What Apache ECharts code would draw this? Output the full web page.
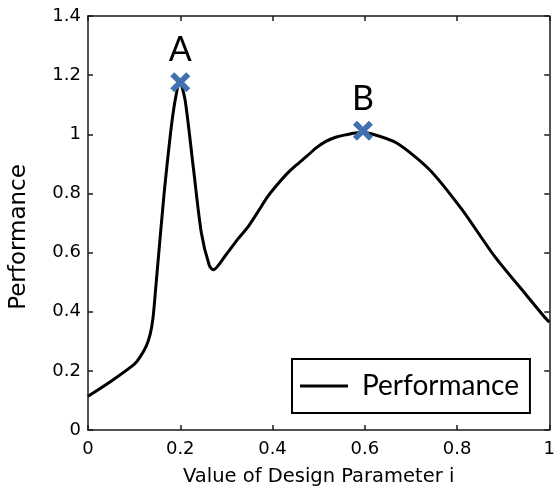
<!DOCTYPE html>
<html>
<head>
<meta charset="utf-8">
<script src="https://cdn.jsdelivr.net/npm/echarts@6/dist/echarts.min.js"></script>
<style>html,body{margin:0;padding:0;background:#fff}#c{width:558px;height:492px}</style>
</head>
<body>
<div id="c"></div>
<script>
var xValues = [0, 0.05, 0.1, 0.112, 0.126, 0.135, 0.141, 0.147, 0.165, 0.179, 0.189, 0.199, 0.2105, 0.228, 0.2456, 0.263, 0.2716, 0.298, 0.326, 0.346, 0.368, 0.3895, 0.4105, 0.4316, 0.4526, 0.4737, 0.4947, 0.5158, 0.5368, 0.558, 0.5895, 0.614, 0.670, 0.740, 0.8105, 0.8807, 0.951, 0.993, 1.0];
var performance = [0.114, 0.165, 0.222, 0.245, 0.283, 0.325, 0.38, 0.484, 0.80, 1.005, 1.116, 1.178, 1.116, 0.892, 0.668, 0.556, 0.542, 0.59, 0.648, 0.685, 0.737, 0.789, 0.830, 0.867, 0.897, 0.925, 0.954, 0.976, 0.990, 0.998, 1.006, 1.002, 0.970, 0.881, 0.746, 0.589, 0.455, 0.376, 0.365];
var pointNames = ['A', 'B'];
var pointX = [0.2, 0.596];
var pointY = [1.176, 1.012];
var xTicks = ['0', '0.2', '0.4', '0.6', '0.8', '1'];
var yTicks = ['0', '0.2', '0.4', '0.6', '0.8', '1', '1.2', '1.4'];

var lineData = xValues.map(function (x, i) { return [x, performance[i]]; });
var ptData = pointNames.map(function (n, i) { return { name: n, value: [pointX[i], pointY[i]] }; });

var axisCol = '#1a1a1a';
var tickFont = { fontFamily: 'DejaVu Sans', fontSize: 18, color: '#000' };
var chart = echarts.init(document.getElementById('c'), null, { renderer: 'canvas' });
chart.setOption({
  animation: false,
  backgroundColor: '#fff',
  grid: { left: 85, right: 1, top: 16, bottom: 60, containLabel: false },
  xAxis: [{
    type: 'value', min: 0, max: 1, interval: 0.2, position: 'bottom',
    name: 'Value of Design Parameter i', nameLocation: 'middle', nameGap: 37,
    nameTextStyle: { fontFamily: 'DejaVu Sans', fontSize: 19.5, color: '#000' },
    axisLine: { show: true, onZero: false, lineStyle: { color: axisCol, width: 1.5 } },
    axisTick: { show: true, inside: true, length: 5, lineStyle: { color: axisCol, width: 1.5 } },
    axisLabel: Object.assign({ margin: 10, formatter: function (v) { return xTicks[Math.round(v / 0.2)]; } }, tickFont),
    splitLine: { show: false }
  }, {
    type: 'value', min: 0, max: 1, interval: 0.2, position: 'top',
    axisLine: { show: true, onZero: false, lineStyle: { color: axisCol, width: 1.5 } },
    axisTick: { show: true, inside: true, length: 5, lineStyle: { color: axisCol, width: 1.5 } },
    axisLabel: { show: false }, splitLine: { show: false }
  }],
  yAxis: [{
    type: 'value', min: 0, max: 1.4, interval: 0.2, position: 'left',
    name: 'Performance', nameLocation: 'middle', nameGap: 57,
    nameTextStyle: { fontFamily: 'DejaVu Sans', fontSize: 23, color: '#000', padding: [0, 28, 0, 0] },
    axisLine: { show: true, onZero: false, lineStyle: { color: axisCol, width: 1.5 } },
    axisTick: { show: true, inside: true, length: 5, lineStyle: { color: axisCol, width: 1.5 } },
    axisLabel: Object.assign({ margin: 7, formatter: function (v) { return yTicks[Math.round(v / 0.2)]; } }, tickFont),
    splitLine: { show: false }
  }, {
    type: 'value', min: 0, max: 1.4, interval: 0.2, position: 'right',
    axisLine: { show: true, onZero: false, lineStyle: { color: axisCol, width: 1.5 } },
    axisTick: { show: true, inside: true, length: 5, lineStyle: { color: axisCol, width: 1.5 } },
    axisLabel: { show: false }, splitLine: { show: false }
  }],
  legend: {
    data: ['Performance'],
    left: 292, top: 359,
    orient: 'horizontal',
    backgroundColor: '#fff',
    borderColor: '#000', borderWidth: 2, borderRadius: 0,
    padding: [13, 11, 13, 8],
    itemWidth: 48, itemHeight: 3,
    icon: 'rect',
    textStyle: { fontFamily: 'Lato', fontSize: 28, color: '#000', padding: [0, 0, 0, 9] }
  },
  series: [{
    name: 'Performance', type: 'line', data: lineData, smooth: 0.25,
    showSymbol: false, symbol: 'none',
    lineStyle: { color: '#000', width: 3 }, itemStyle: { color: '#000' },
    z: 2
  }, {
    name: 'points', type: 'scatter', data: ptData,
    symbol: 'path://M2,0 L5,3 L8,0 L10,2 L7,5 L10,8 L8,10 L5,7 L2,10 L0,8 L3,5 L0,2 Z',
    symbolSize: 20,
    itemStyle: { color: '#4170ae', opacity: 1 },
    label: { show: true, position: 'top', distance: 5, formatter: '{b}', fontFamily: 'Lato', fontSize: 34, color: '#000' },
    z: 5
  }]
});
</script>
</body>
</html>
